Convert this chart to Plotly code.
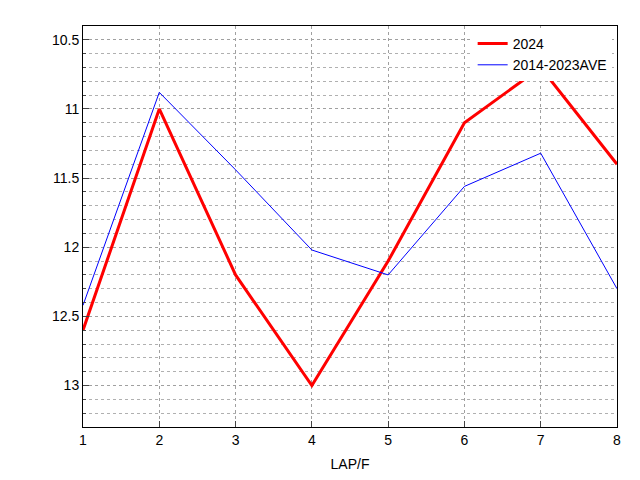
import plotly.graph_objs as go

laps = [1, 2, 3, 4, 5, 6, 7, 8]
times_2024 = [12.6, 11.0, 12.2, 13.0, 12.1, 11.1, 10.7, 11.4]
times_ave = [12.42, 10.88, 11.44, 12.02, 12.2, 11.56, 11.32, 12.3]

fig = go.Figure()
fig.add_trace(go.Scatter(x=laps, y=times_2024, mode="lines", name="2024",
                         line=dict(color="red", width=3)))
fig.add_trace(go.Scatter(x=laps, y=times_ave, mode="lines", name="2014-2023AVE",
                         line=dict(color="blue", width=1)))

fig.update_layout(
    width=640, height=480,
    margin=dict(l=75, r=31, t=18, b=61),
    plot_bgcolor="white", paper_bgcolor="white",
    font=dict(family="Liberation Sans", size=14, color="black"),
    legend=dict(x=0.99, y=0.995, xanchor="right", yanchor="top",
                bgcolor="white", font=dict(size=14), traceorder="normal"),
    xaxis=dict(range=[1, 8], dtick=1, automargin=False,
               title=dict(text="LAP/F", standoff=12, font=dict(size=14)),
               showline=True, mirror=True, linecolor="black",
               showgrid=True, gridcolor="#a0a0a0", griddash="dot",
               ticks="inside", ticklen=6, zeroline=False),
    yaxis=dict(range=[13.3, 10.4], dtick=0.5, tickformat="~g", automargin=False,
               showline=True, mirror=True, linecolor="black",
               showgrid=True, gridcolor="#a0a0a0", griddash="dot",
               minor=dict(dtick=0.1, showgrid=True, gridcolor="#b0b0b0",
                          griddash="dot", ticks="inside", ticklen=3),
               ticks="inside", ticklen=6, zeroline=False),
)
fig.write_html("out.html")
